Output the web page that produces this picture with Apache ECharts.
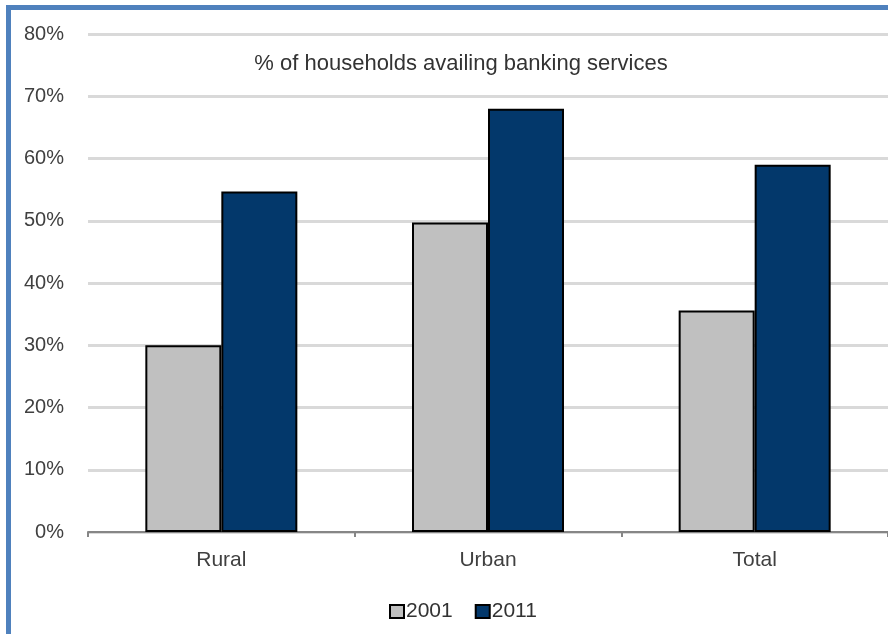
<!DOCTYPE html>
<html>
<head>
<meta charset="utf-8">
<script src="https://cdn.jsdelivr.net/npm/echarts@6/dist/echarts.min.js"></script>
<style>
  html, body { margin: 0; padding: 0; background: #ffffff; }
  #chart { width: 888px; height: 634px; }
</style>
</head>
<body>
<div id="chart"></div>
<script>
// Share of households availing banking services, by area and census year
const categories = ['Rural', 'Urban', 'Total'];
const years = ['2001', '2011'];
const values2001 = [30, 49.7, 35.6];
const values2011 = [54.7, 68, 59];
const yTicks = [0, 10, 20, 30, 40, 50, 60, 70, 80];

const FONT = '"Liberation Sans", Arial, sans-serif';
const chart = echarts.init(document.getElementById('chart'), null, { renderer: 'canvas' });

chart.setOption({
  animation: false,
  backgroundColor: '#ffffff',
  textStyle: { fontFamily: FONT },
  title: {
    text: '% of households availing banking services',
    left: 456,
    top: 48,
    textAlign: 'center',
    textStyle: { fontFamily: FONT, fontSize: 22, fontWeight: 'normal', color: '#333333' }
  },
  legend: {
    data: years,
    left: 384,
    top: 596,
    itemWidth: 14,
    itemHeight: 13,
    itemGap: 22,
    icon: 'rect',
    textStyle: { fontFamily: FONT, fontSize: 21, color: '#333333', padding: [0, 0, 0, -3] }
  },
  grid: { left: 88, top: 34, width: 800, height: 498, containLabel: false },
  xAxis: {
    type: 'category',
    data: categories,
    axisLine: { lineStyle: { color: '#868686', width: 2 } },
    axisTick: { show: true, length: 5, interval: 0, lineStyle: { color: '#868686', width: 2 } },
    axisLabel: { fontFamily: FONT, fontSize: 21, color: '#404040', margin: 18 }
  },
  yAxis: {
    type: 'value',
    min: yTicks[0],
    max: yTicks[yTicks.length - 1],
    interval: 10,
    axisLine: { show: false },
    axisTick: { show: false },
    splitLine: { lineStyle: { color: '#d9d9d9', width: 3 } },
    axisLabel: { fontFamily: FONT, fontSize: 20, color: '#404040', margin: 24, formatter: '{value}%' }
  },
  series: [
    {
      name: years[0],
      type: 'bar',
      data: values2001,
      barWidth: 76,
      barGap: '0%',
      itemStyle: { color: '#c0c0c0', borderColor: '#000000', borderWidth: 2 }
    },
    {
      name: years[1],
      type: 'bar',
      data: values2011,
      barWidth: 76,
      barGap: '0%',
      itemStyle: { color: '#03386b', borderColor: '#000000', borderWidth: 2 }
    }
  ],
  graphic: [
    { type: 'line', shape: { x1: 8.5, y1: 7.5, x2: 8.5, y2: 640 }, style: { stroke: '#4f81bd', lineWidth: 5 } },
    { type: 'line', shape: { x1: 6, y1: 7.5, x2: 890, y2: 7.5 }, style: { stroke: '#4f81bd', lineWidth: 5 } }
  ]
});
</script>
</body>
</html>
